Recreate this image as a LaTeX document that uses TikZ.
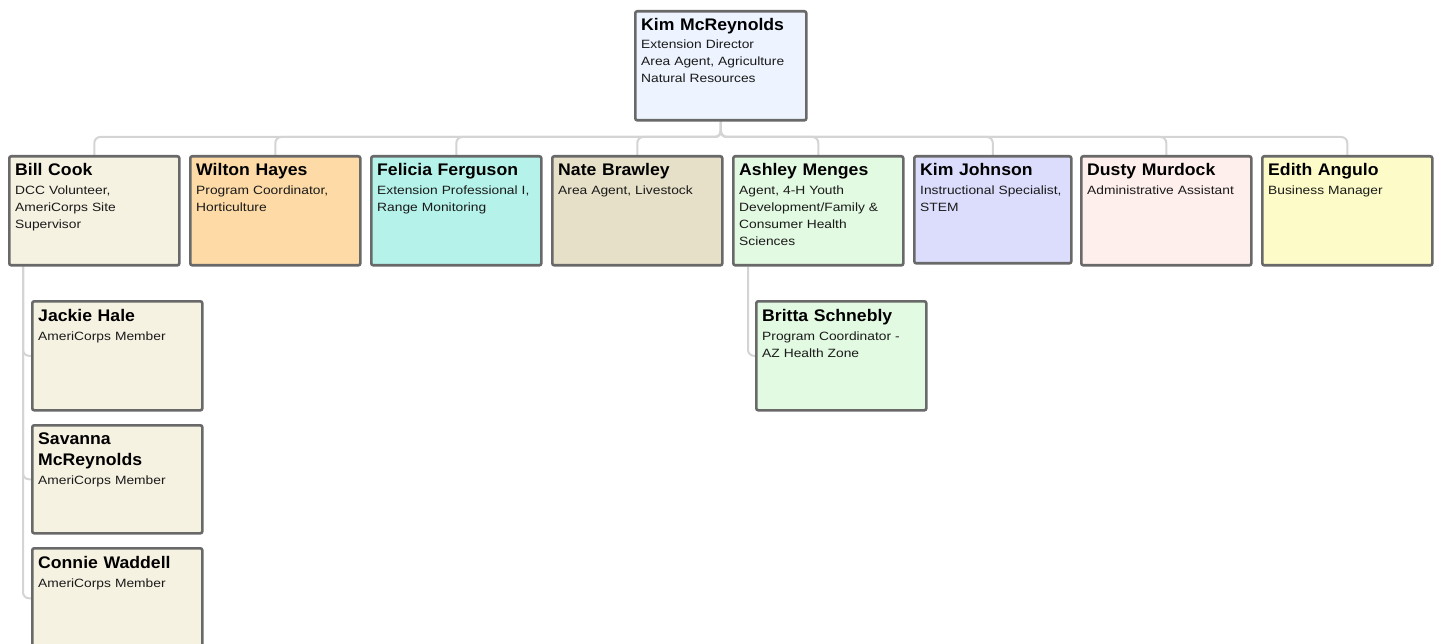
\documentclass[tikz,border=0pt]{standalone}
\usepackage{fontspec}
\setmainfont{Liberation Sans}
\newfontfamily\subfont[FakeStretch=1.15]{Liberation Sans}
\newfontfamily\namefont[FakeStretch=1.05]{Liberation Sans}
\usetikzlibrary{calc,backgrounds}
\definecolor{boxborder}{HTML}{696969}
\definecolor{conncol}{HTML}{D4D4D4}
\definecolor{cRoot}{HTML}{EDF4FF}
\definecolor{cBeige}{HTML}{F6F2E2}
\definecolor{cOrange}{HTML}{FEDBA6}
\definecolor{cCyan}{HTML}{B5F3EA}
\definecolor{cTan}{HTML}{E6E0C8}
\definecolor{cGreen}{HTML}{E2F9E2}
\definecolor{cLav}{HTML}{DCDDFC}
\definecolor{cPink}{HTML}{FEEFEC}
\definecolor{cYellow}{HTML}{FDFCC8}
\definecolor{subtext}{HTML}{1A1A1A}
\begin{document}
\begin{tikzpicture}[x=1pt,y=-1pt,
  pbox/.style={draw=boxborder, line width=2.6pt, rounded corners=2pt, inner sep=0pt,
    anchor=north west, minimum width=170pt, minimum height=109pt},
  nm/.style={anchor=base west, inner sep=0pt, text width=165pt, align=left,
    font=\namefont\fontsize{16.8}{21}\selectfont\bfseries, text=black},
  sub/.style={anchor=base west, inner sep=0pt, text width=165pt, align=left,
    font=\subfont\fontsize{12}{17}\selectfont, text=subtext},
  conn/.style={draw=conncol, line width=2pt, rounded corners=6pt}]
\useasboundingbox (0,0) rectangle (1437,644);

% boxes
\node[pbox, fill=cRoot, minimum width=171pt] (root) at (634,10) {};
\node[pbox, fill=cBeige] (bill) at (8,155) {};
\node[pbox, fill=cOrange] (wilton) at (189,155) {};
\node[pbox, fill=cCyan] (felicia) at (370,155) {};
\node[pbox, fill=cTan] (nate) at (551,155) {};
\node[pbox, fill=cGreen] (ashley) at (732,155) {};
\node[pbox, fill=cLav, minimum width=157pt, minimum height=107pt] (kimj) at (913,155) {};
\node[pbox, fill=cPink] (dusty) at (1080,155) {};
\node[pbox, fill=cYellow] (edith) at (1261,155) {};
\node[pbox, fill=cBeige] (jackie) at (31,300) {};
\node[pbox, fill=cBeige, minimum height=108pt] (savanna) at (31,424) {};
\node[pbox, fill=cBeige, minimum height=100pt] (connie) at (31,547) {};
\node[pbox, fill=cGreen] (britta) at (755,300) {};

% texts
\node[nm] at ($(root.north west)+(7,21)$) {Kim McReynolds};
\node[sub] at ($(root.north west)+(7,39)$) {Extension Director\\Area Agent, Agriculture\\Natural Resources};
\node[nm] at ($(bill.north west)+(7,21)$) {Bill Cook};
\node[sub] at ($(bill.north west)+(7,40)$) {DCC Volunteer,\\AmeriCorps Site\\Supervisor};
\node[nm] at ($(wilton.north west)+(7,21)$) {Wilton Hayes};
\node[sub] at ($(wilton.north west)+(7,40)$) {Program Coordinator,\\Horticulture};
\node[nm] at ($(felicia.north west)+(7,21)$) {Felicia Ferguson};
\node[sub] at ($(felicia.north west)+(7,40)$) {Extension Professional I,\\Range Monitoring};
\node[nm] at ($(nate.north west)+(7,21)$) {Nate Brawley};
\node[sub] at ($(nate.north west)+(7,40)$) {Area Agent, Livestock};
\node[nm] at ($(ashley.north west)+(7,21)$) {Ashley Menges};
\node[sub] at ($(ashley.north west)+(7,40)$) {Agent, 4-H Youth\\Development/Family \&\\Consumer Health\\Sciences};
\node[nm] at ($(kimj.north west)+(7,21)$) {Kim Johnson};
\node[sub] at ($(kimj.north west)+(7,40)$) {Instructional Specialist,\\STEM};
\node[nm] at ($(dusty.north west)+(7,21)$) {Dusty Murdock};
\node[sub] at ($(dusty.north west)+(7,40)$) {Administrative Assistant};
\node[nm] at ($(edith.north west)+(7,21)$) {Edith Angulo};
\node[sub] at ($(edith.north west)+(7,40)$) {Business Manager};
\node[nm] at ($(jackie.north west)+(7,21)$) {Jackie Hale};
\node[sub] at ($(jackie.north west)+(7,40)$) {AmeriCorps Member};
\node[nm] at ($(savanna.north west)+(7,20)$) {Savanna\\McReynolds};
\node[sub] at ($(savanna.north west)+(7,60)$) {AmeriCorps Member};
\node[nm] at ($(connie.north west)+(7,21)$) {Connie Waddell};
\node[sub] at ($(connie.north west)+(7,40)$) {AmeriCorps Member};
\node[nm] at ($(britta.north west)+(7,21)$) {Britta Schnebly};
\node[sub] at ($(britta.north west)+(7,40)$) {Program Coordinator -\\AZ Health Zone};

% connectors
\begin{scope}[on background layer]
\foreach \c in {bill,wilton,felicia,nate,ashley,kimj,dusty,edith}{
  \draw[conn] (root.south) |- ($(\c.north)+(0,-18)$) -- (\c.north);
}
\foreach \c in {jackie,savanna,connie}{
  \draw[conn] ($(bill.south west)+(15,0)$) |- (\c.west);
}
\draw[conn] ($(ashley.south west)+(16,0)$) |- (britta.west);
\end{scope}
\end{tikzpicture}
\end{document}
